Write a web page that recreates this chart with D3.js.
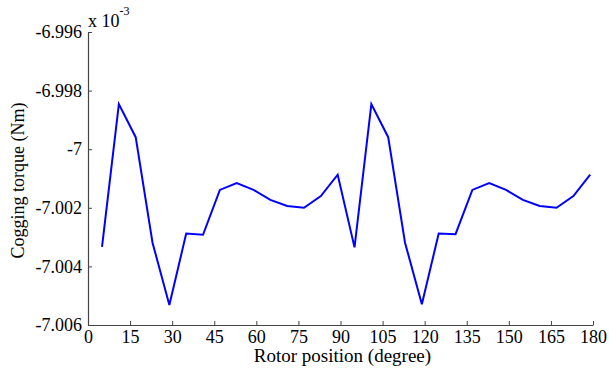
<!DOCTYPE html>
<html>
<head>
<meta charset="utf-8">
<script src="https://cdn.jsdelivr.net/npm/d3@7/dist/d3.min.js"></script>
<style>
  html, body { margin: 0; padding: 0; background: #fff; }
  svg { display: block; }
  svg text { font-family: "Liberation Serif", "Times New Roman", serif; fill: #000; }
</style>
</head>
<body>
<svg id="chart" width="609" height="372"></svg>
<script>
// Rotor position (degree)
const positions = [5, 11, 17, 23, 29, 35, 41, 47, 53, 59, 65, 71, 77, 83, 89,
                   95, 101, 107, 113, 119, 125, 131, 137, 143, 149, 155, 161, 167, 173, 179];
// Cogging torque (x 10^-3 Nm)
const torque = [-7.00333, -6.99846, -6.99959, -7.00319, -7.00532, -7.00288, -7.00292, -7.00139,
                -7.00116, -7.00139, -7.00173, -7.00194, -7.00200, -7.00160, -7.00087,
                -7.00335, -6.99846, -6.99959, -7.00319, -7.00529, -7.00288, -7.00290, -7.00139,
                -7.00116, -7.00139, -7.00173, -7.00194, -7.00200, -7.00160, -7.00087];
const xTicks = [0, 15, 30, 45, 60, 75, 90, 105, 120, 135, 150, 165, 180];
const yTicks = [-7.006, -7.004, -7.002, -7, -6.998, -6.996];
const yTickLabels = ["-7.006", "-7.004", "-7.002", "-7", "-6.998", "-6.996"];

const svg = d3.select("#chart");
const m = { left: 88, right: 16, top: 32, bottom: 47 };
const W = 609, H = 372;
const serif = "'Liberation Serif', 'Times New Roman', serif";

const x = d3.scaleLinear().domain([0, 180]).range([m.left, W - m.right]);
const y = d3.scaleLinear().domain([-7.006, -6.996]).range([H - m.bottom, m.top]);

const axisColor = "#444";

// x axis with inward ticks
const gx = svg.append("g")
  .attr("transform", `translate(0,${H - m.bottom})`)
  .call(d3.axisBottom(x).tickValues(xTicks).tickSizeInner(-4).tickSizeOuter(0).tickPadding(5)
        .tickFormat(d => String(d)));
gx.attr("font-family", null);
gx.select(".domain").attr("stroke", axisColor).attr("stroke-width", 1.2);
gx.selectAll(".tick line").attr("stroke", axisColor);
gx.selectAll(".tick text").attr("font-size", 18).style("font-family", serif).attr("fill", "#000");

// y axis with inward ticks
const gy = svg.append("g")
  .attr("transform", `translate(${m.left},0)`)
  .call(d3.axisLeft(y).tickValues(yTicks).tickSizeInner(-4).tickSizeOuter(0).tickPadding(6)
        .tickFormat((d, i) => yTickLabels[i]));
gy.attr("font-family", null);
gy.select(".domain").attr("stroke", axisColor).attr("stroke-width", 1.2);
gy.selectAll(".tick line").attr("stroke", axisColor);
gy.selectAll(".tick text").attr("font-size", 18).style("font-family", serif).attr("fill", "#000");

// exponent marker
const ex = svg.append("text").attr("x", m.left).attr("y", 27).attr("font-size", 18).style("font-family", serif);
ex.append("tspan").text("x 10");
ex.append("tspan").attr("dy", -12).attr("font-size", 12).text("-3");

// axis titles
svg.append("text")
  .attr("x", (x(0) + x(180)) / 2 + 2).attr("y", 362)
  .attr("text-anchor", "middle").attr("font-size", 19).style("font-family", serif)
  .text("Rotor position (degree)");

svg.append("text")
  .attr("transform", `translate(24,${(y(-7.006) + y(-6.996)) / 2 + 2}) rotate(-90)`)
  .attr("text-anchor", "middle").attr("font-size", 18).style("font-family", serif)
  .text("Cogging torque (Nm)");

// torque curve
const line = d3.line().x((d, i) => x(positions[i])).y(d => y(d));
svg.append("path")
  .datum(torque)
  .attr("d", line)
  .attr("fill", "none")
  .attr("stroke", "#0000ff")
  .attr("stroke-width", 2);
</script>
</body>
</html>
